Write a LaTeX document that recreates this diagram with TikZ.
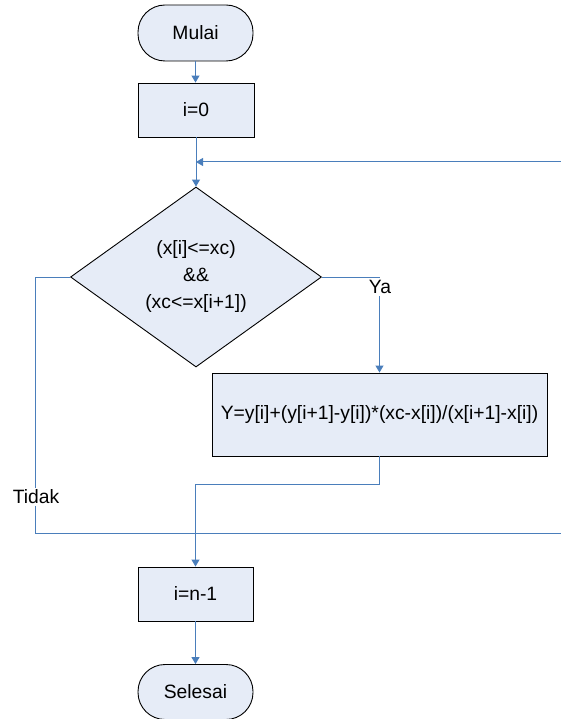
\documentclass[tikz,border=0pt]{standalone}
\usepackage{fontspec}
\setmainfont{Liberation Sans}
\usetikzlibrary{shapes.geometric,arrows.meta}
\definecolor{boxfill}{HTML}{E6ECF7}
\definecolor{conn}{HTML}{4A7EBB}
\tikzset{
  basebox/.style={draw=black, line width=0.9pt, fill=boxfill, inner sep=0pt,
    font=\fontsize{19.3}{27}\selectfont, align=center},
  procbox/.style={basebox, rectangle},
  termbox/.style={basebox, rectangle, rounded corners=27pt},
  decbox/.style={basebox, diamond},
  conline/.style={draw=conn, line width=1pt},
  conarrow/.style={conline, -{Triangle[length=7pt,width=8pt]}},
  lbl/.style={fill=white, inner sep=2pt, font=\fontsize{19.3}{22}\selectfont}
}
\begin{document}
\begin{tikzpicture}[x=1pt,y=-1pt]
\useasboundingbox (0,0) rectangle (561,719);
\node[termbox, minimum width=115pt, minimum height=56pt] (mulai) at (195.5,33) {Mulai};
\node[procbox, minimum width=116pt, minimum height=54pt] (i0) at (196,110) {i=0};
\node[decbox, minimum width=251pt, minimum height=180pt] (dec) at (196,277) {(x[i]<=xc)\\\&\&\\(xc<=x[i+1])};
\node[procbox, minimum width=335pt, minimum height=83pt] (ybox) at (379.5,414.5) {Y=y[i]+(y[i+1]-y[i])*(xc-x[i])/(x[i+1]-x[i])};
\node[procbox, minimum width=115pt, minimum height=54pt] (in1) at (195.5,594) {i=n-1};
\node[termbox, minimum width=115pt, minimum height=55pt] (sel) at (195.5,692) {Selesai};

\coordinate (rin) at (561,162);
\coordinate (join) at (i0.south |- rin);
\coordinate (yaturn) at (ybox.north |- dec.east);
\coordinate (ybend) at (ybox.south |- 0,484);
\coordinate (mbend) at (in1.north |- ybend);
\coordinate (tturn) at (35,277);
\coordinate (tbot) at (35,533);
\coordinate (rout) at (561,533);

\draw[conarrow] (mulai.south) -- (i0.north -| mulai.south);
\draw[conarrow] (i0.south) -- (dec.north);
\draw[conarrow] (rin) -- (join);
\draw[conarrow] (dec.east) -- (yaturn) -- (ybox.north)
  node[lbl, pos=0.02, anchor=north, yshift=1pt, xshift=0.5pt] (ya) {Ya};
\draw[conarrow] (ybox.south) -- (ybend) -- (mbend) -- (in1.north);
\draw[conline] (dec.west) -- (tturn) -- (tbot) -- (rout);
\node[lbl] (tidak) at (36,497) {Tidak};
\draw[conarrow] (in1.south) -- (sel.north);
\end{tikzpicture}
\end{document}
